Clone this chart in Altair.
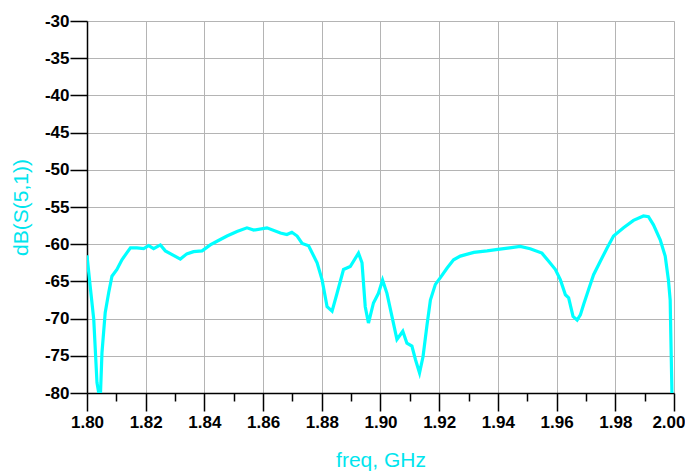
import altair as alt
import pandas as pd

freq = [1.8000, 1.8011, 1.8023, 1.8034, 1.8040, 1.8046, 1.8051, 1.8062, 1.8074, 1.8085,
        1.8102, 1.8119, 1.8135, 1.8148, 1.8170, 1.8193, 1.8210, 1.8227, 1.8250, 1.8267,
        1.8290, 1.8318, 1.8340, 1.8363, 1.8392, 1.8420, 1.8443, 1.8477, 1.8511, 1.8545,
        1.8568, 1.8613, 1.8659, 1.8681, 1.8698, 1.8716, 1.8733, 1.8755, 1.8784, 1.8801,
        1.8818, 1.8835, 1.8852, 1.8874, 1.8897, 1.8925, 1.8937, 1.8948, 1.8959, 1.8976,
        1.8993, 1.9007, 1.9022, 1.9039, 1.9056, 1.9067, 1.9076, 1.9090, 1.9107, 1.9119,
        1.9133, 1.9145, 1.9158, 1.9170, 1.9187, 1.9204, 1.9227, 1.9249, 1.9272, 1.9318,
        1.9363, 1.9400, 1.9440, 1.9476, 1.9510, 1.9550, 1.9573, 1.9596, 1.9613, 1.9630,
        1.9641, 1.9656, 1.9670, 1.9681, 1.9692, 1.9709, 1.9726, 1.9749, 1.9772, 1.9794,
        1.9828, 1.9862, 1.9896, 1.9913, 1.9930, 1.9953, 1.9970, 1.9981, 1.9987, 1.9989,
        1.9993, 2.0000]
db = [-61.5, -65.7, -70.1, -78.6, -80.0, -80.0, -74.6, -69.2, -66.5, -64.3,
      -63.4, -62.1, -61.2, -60.5, -60.5, -60.6, -60.2, -60.6, -60.1, -60.9,
      -61.4, -62.0, -61.3, -61.0, -60.9, -60.1, -59.6, -58.9, -58.3, -57.8,
      -58.1, -57.8, -58.5, -58.7, -58.4, -58.9, -59.9, -60.2, -62.5, -64.8,
      -68.4, -69.0, -66.6, -63.4, -63.0, -61.2, -62.5, -68.4, -70.6, -67.9,
      -66.6, -64.8, -66.6, -69.7, -72.8, -72.2, -71.7, -73.3, -73.7, -75.5,
      -77.3, -75.1, -71.0, -67.5, -65.4, -64.5, -63.2, -62.1, -61.6, -61.1,
      -60.9, -60.7, -60.5, -60.3, -60.6, -61.2, -62.3, -63.4, -64.8, -66.8,
      -67.2, -69.7, -70.2, -69.5, -68.1, -66.1, -64.1, -62.3, -60.5, -58.9,
      -57.8, -56.8, -56.2, -56.3, -57.4, -59.4, -61.6, -64.8, -67.5, -71.9,
      -80.0, -82.0]

x_ticks = [round(1.80 + 0.01 * i, 2) for i in range(21)]
y_ticks = [-80, -75, -70, -65, -60, -55, -50, -45, -40, -35, -30]

df = pd.DataFrame({"freq": freq, "db": db})

major_test = "round(datum.value * 100) % 2 == 0"
last_test = "datum.value >= 1.995"

x_axis = alt.Axis(
    values=x_ticks,
    labelExpr="round(datum.value * 100) % 2 == 0 ? format(datum.value, '.2f') : ''",
    labelFont="Liberation Sans", labelFontWeight="bold", labelFontSize=17,
    labelColor="black", labelPadding=3, labelFlush=False, labelOverlap=False,
    labelAlign={"condition": {"test": last_test, "value": "right"}, "value": "center"},
    labelOffset={"condition": {"test": last_test, "value": 11}, "value": 0},
    tickSize={"condition": {"test": major_test, "value": 18}, "value": 8},
    tickColor="black", tickWidth=1.5,
    gridOpacity={"condition": {"test": major_test, "value": 1}, "value": 0},
    gridColor="#b4b4b4", gridWidth=1,
    domainColor="black", domainWidth=1.5,
    title="freq, GHz", titleFont="Liberation Sans", titleFontSize=21,
    titleFontWeight="normal", titleColor="#00e5ee",
    titleY=73, titleBaseline="alphabetic",
)

y_axis = alt.Axis(
    values=y_ticks,
    labelExpr="datum.value < 0 ? '-' + abs(datum.value) : '' + datum.value",
    labelFont="Liberation Sans", labelFontWeight="bold", labelFontSize=17,
    labelColor="black", labelPadding=1, labelFlush=False, labelOverlap=False,
    tickSize=17, tickColor="black", tickWidth=1.5,
    gridColor="#b4b4b4", gridWidth=1,
    domainColor="black", domainWidth=1.5,
    title="dB(S(5,1))", titleFont="Liberation Sans", titleFontSize=21,
    titleFontWeight="normal", titleColor="#00e5ee",
    titleX=-60, titleBaseline="alphabetic", titleAngle=-90,
)

chart = (
    alt.Chart(df)
    .mark_line(color="#00ffff", strokeWidth=3.2, clip=True, interpolate="linear")
    .encode(
        x=alt.X("freq:Q", scale=alt.Scale(domain=[1.80, 2.00], nice=False, zero=False), axis=x_axis),
        y=alt.Y("db:Q", scale=alt.Scale(domain=[-80, -30], nice=False, zero=False), axis=y_axis),
    )
    .properties(
        width=587, height=372,
        autosize=alt.AutoSizeParams(type="none"),
        padding={"left": 79, "top": 13, "right": 11, "bottom": 80},
    )
    .configure_view(stroke="black", strokeWidth=1.5)
    .configure(background="white")
)

chart.save("out.html", embed_options={"renderer": "svg", "actions": False})
